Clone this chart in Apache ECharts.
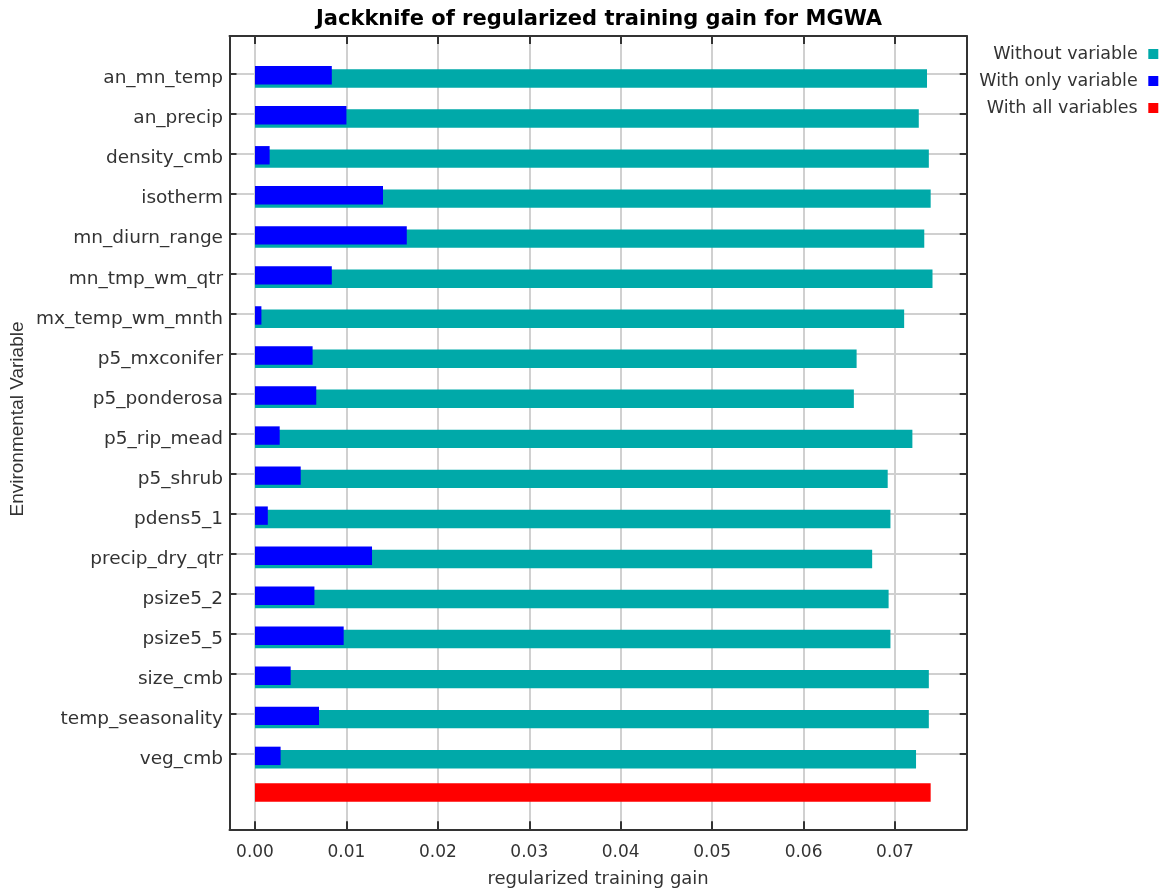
<!DOCTYPE html>
<html>
<head>
<meta charset="utf-8">
<script src="https://cdn.jsdelivr.net/npm/echarts@6/dist/echarts.min.js"></script>
<style>
  html, body { margin: 0; padding: 0; background: #ffffff; }
  #chart { width: 1162px; height: 894px; }
</style>
</head>
<body>
<div id="chart"></div>
<script>
// Environmental variables, top to bottom
const CATEGORIES = [
  'an_mn_temp', 'an_precip', 'density_cmb', 'isotherm', 'mn_diurn_range',
  'mn_tmp_wm_qtr', 'mx_temp_wm_mnth', 'p5_mxconifer', 'p5_ponderosa',
  'p5_rip_mead', 'p5_shrub', 'pdens5_1', 'precip_dry_qtr', 'psize5_2',
  'psize5_5', 'size_cmb', 'temp_seasonality', 'veg_cmb'
];

// Regularized training gain when each variable is left out
const WITHOUT_VARIABLE = [
  0.0735, 0.0726, 0.0737, 0.0739, 0.0732,
  0.0741, 0.0710, 0.0658, 0.0655,
  0.0719, 0.0692, 0.0695, 0.0675, 0.0693,
  0.0695, 0.0737, 0.0737, 0.0723
];

// Regularized training gain using only that variable
const WITH_ONLY_VARIABLE = [
  0.0084, 0.0100, 0.0016, 0.0140, 0.0166,
  0.0084, 0.0007, 0.0063, 0.0067,
  0.0027, 0.0050, 0.0014, 0.0128, 0.0065,
  0.0097, 0.0039, 0.0070, 0.0028
];

// Full model gain
const WITH_ALL_VARIABLES = 0.0739;

const SERIES_NAMES = ['Without variable', 'With only variable', 'With all variables'];
const COLORS = ['#00A9A9', '#0000FF', '#FF0000'];

// ---- layout (pixels) ----
const PLOT = { left: 229.5, top: 36, right: 966.7, bottom: 829.3 };
const ZERO_X = 255;            // where gain 0 sits
const PX_PER_UNIT = 9143;      // horizontal scale
const X_MAX = (PLOT.right - ZERO_X) / PX_PER_UNIT;
const ROW_STEP = 40.04;
const FIRST_TICK_Y = 73.3;
const BAR_H = 18.4;

// Rows incl. the trailing unlabeled row that holds the full-model bar
const ROWS = CATEGORIES.concat(['']);
const ALL_DATA = ROWS.map((_, i) => (i === CATEGORIES.length ? WITH_ALL_VARIABLES : '-'));

const FONT = 'DejaVu Sans';
const TEXT_COLOR = '#333333';
const GRID_LINE = { color: '#d0d0d0', width: 2 };
const TICK_LINE = { color: '#333333', width: 2 };
const FRAME_LINE = { color: '#333333', width: 2 };

const plotW = PLOT.right - PLOT.left;
const plotH = PLOT.bottom - PLOT.top;
const barW = PLOT.right - ZERO_X;
const rowsH = (ROWS.length - 1) * ROW_STEP;

function hiddenValueX(gridIndex, max) {
  return { type: 'value', gridIndex, min: 0, max, show: false };
}
function hiddenCatY(gridIndex, data) {
  return { type: 'category', gridIndex, data, inverse: true, boundaryGap: false, show: false };
}
// Plain frame edge: only the axis line is drawn
function frameAxis(gridIndex, position, extra) {
  return Object.assign({
    type: 'value', gridIndex, position, min: 0, max: 1, z: 5,
    axisLine: { show: true, onZero: false, lineStyle: FRAME_LINE },
    axisTick: { show: false }, axisLabel: { show: false }, splitLine: { show: false }
  }, extra || {});
}

const chart = echarts.init(document.getElementById('chart'), null, { renderer: 'canvas' });

chart.setOption({
  animation: false,
  backgroundColor: '#ffffff',
  title: {
    text: 'Jackknife of regularized training gain for MGWA',
    left: 316,
    top: 9,
    padding: 0,
    textStyle: { fontFamily: FONT, fontWeight: 'bold', fontSize: 21, color: '#000000' }
  },
  legend: {
    orient: 'vertical',
    right: 3.7,
    top: 45,
    padding: 0,
    align: 'right',
    itemWidth: 10,
    itemHeight: 10,
    itemGap: 9,
    icon: 'rect',
    selectedMode: false,
    data: SERIES_NAMES,
    formatter: (name) => name + ' ',
    textStyle: { fontFamily: FONT, fontSize: 17.5, color: TEXT_COLOR, lineHeight: 18 }
  },
  graphic: [{
    type: 'text',
    x: 18,
    y: 419,
    rotation: Math.PI / 2,
    style: {
      text: 'Environmental Variable',
      fontFamily: 'Liberation Sans',
      fontSize: 19,
      fill: TEXT_COLOR,
      align: 'center',
      verticalAlign: 'middle'
    }
  }],
  grid: [
    // 0: frame
    { left: PLOT.left, top: PLOT.top, width: plotW, height: plotH },
    // 1: gain axis ticks, labels and vertical grid lines
    { left: ZERO_X, top: PLOT.top, width: barW, height: plotH },
    // 2: row ticks and horizontal grid lines
    { left: PLOT.left, top: FIRST_TICK_Y, width: plotW, height: (CATEGORIES.length - 1) * ROW_STEP },
    // 3: "without" bars + row labels
    { left: ZERO_X, top: FIRST_TICK_Y + 5.2, width: barW, height: rowsH },
    // 4: "only" bars
    { left: ZERO_X, top: FIRST_TICK_Y + 1.9, width: barW, height: rowsH },
    // 5: full-model bar
    { left: ZERO_X, top: FIRST_TICK_Y - 1.5, width: barW, height: rowsH }
  ],
  xAxis: [
    frameAxis(0, 'bottom', {
      name: 'regularized training gain', nameLocation: 'middle', nameGap: 41,
      nameTextStyle: { fontFamily: FONT, fontSize: 18, color: TEXT_COLOR } }),
    frameAxis(0, 'top'),
    { type: 'value', gridIndex: 1, position: 'bottom', min: 0, max: X_MAX, interval: 0.01,
      axisLine: { show: false },
      axisTick: { show: true, inside: true, length: 8, lineStyle: TICK_LINE },
      axisLabel: { show: true, margin: 15, showMaxLabel: false,
        fontFamily: FONT, fontSize: 17, color: TEXT_COLOR,
        formatter: (v) => v.toFixed(2) },
      splitLine: { show: true, showMaxLine: false, lineStyle: GRID_LINE } },
    { type: 'value', gridIndex: 1, position: 'top', min: 0, max: X_MAX, interval: 0.01,
      axisLine: { show: false },
      axisTick: { show: true, inside: true, length: 8, lineStyle: TICK_LINE },
      axisLabel: { show: false }, splitLine: { show: false } },
    hiddenValueX(2, 1),
    hiddenValueX(3, X_MAX),
    hiddenValueX(4, X_MAX),
    hiddenValueX(5, X_MAX)
  ],
  yAxis: [
    frameAxis(0, 'left'),
    frameAxis(0, 'right'),
    { type: 'value', gridIndex: 1, show: false },
    { type: 'category', gridIndex: 2, position: 'left', data: CATEGORIES, inverse: true, boundaryGap: false,
      axisLine: { show: false },
      axisTick: { show: true, inside: true, length: 7, lineStyle: TICK_LINE },
      axisLabel: { show: false },
      splitLine: { show: true, lineStyle: GRID_LINE } },
    { type: 'category', gridIndex: 2, position: 'right', data: CATEGORIES, inverse: true, boundaryGap: false,
      axisLine: { show: false },
      axisTick: { show: true, inside: true, length: 7, lineStyle: TICK_LINE },
      axisLabel: { show: false }, splitLine: { show: false } },
    { type: 'category', gridIndex: 3, position: 'left', data: ROWS, inverse: true, boundaryGap: false,
      axisLine: { show: false }, axisTick: { show: false }, splitLine: { show: false },
      axisLabel: { show: true, margin: 32, interval: 0,
        fontFamily: FONT, fontSize: 18.5, color: TEXT_COLOR } },
    hiddenCatY(4, ROWS),
    hiddenCatY(5, ROWS)
  ],
  series: [
    { name: SERIES_NAMES[0], type: 'bar', xAxisIndex: 5, yAxisIndex: 5, clip: false,
      barWidth: BAR_H, itemStyle: { color: COLORS[0] }, data: WITHOUT_VARIABLE },
    { name: SERIES_NAMES[1], type: 'bar', xAxisIndex: 6, yAxisIndex: 6, clip: false,
      barWidth: BAR_H, itemStyle: { color: COLORS[1] }, data: WITH_ONLY_VARIABLE },
    { name: SERIES_NAMES[2], type: 'bar', xAxisIndex: 7, yAxisIndex: 7, clip: false,
      barWidth: BAR_H, itemStyle: { color: COLORS[2] }, data: ALL_DATA }
  ]
});
</script>
</body>
</html>
